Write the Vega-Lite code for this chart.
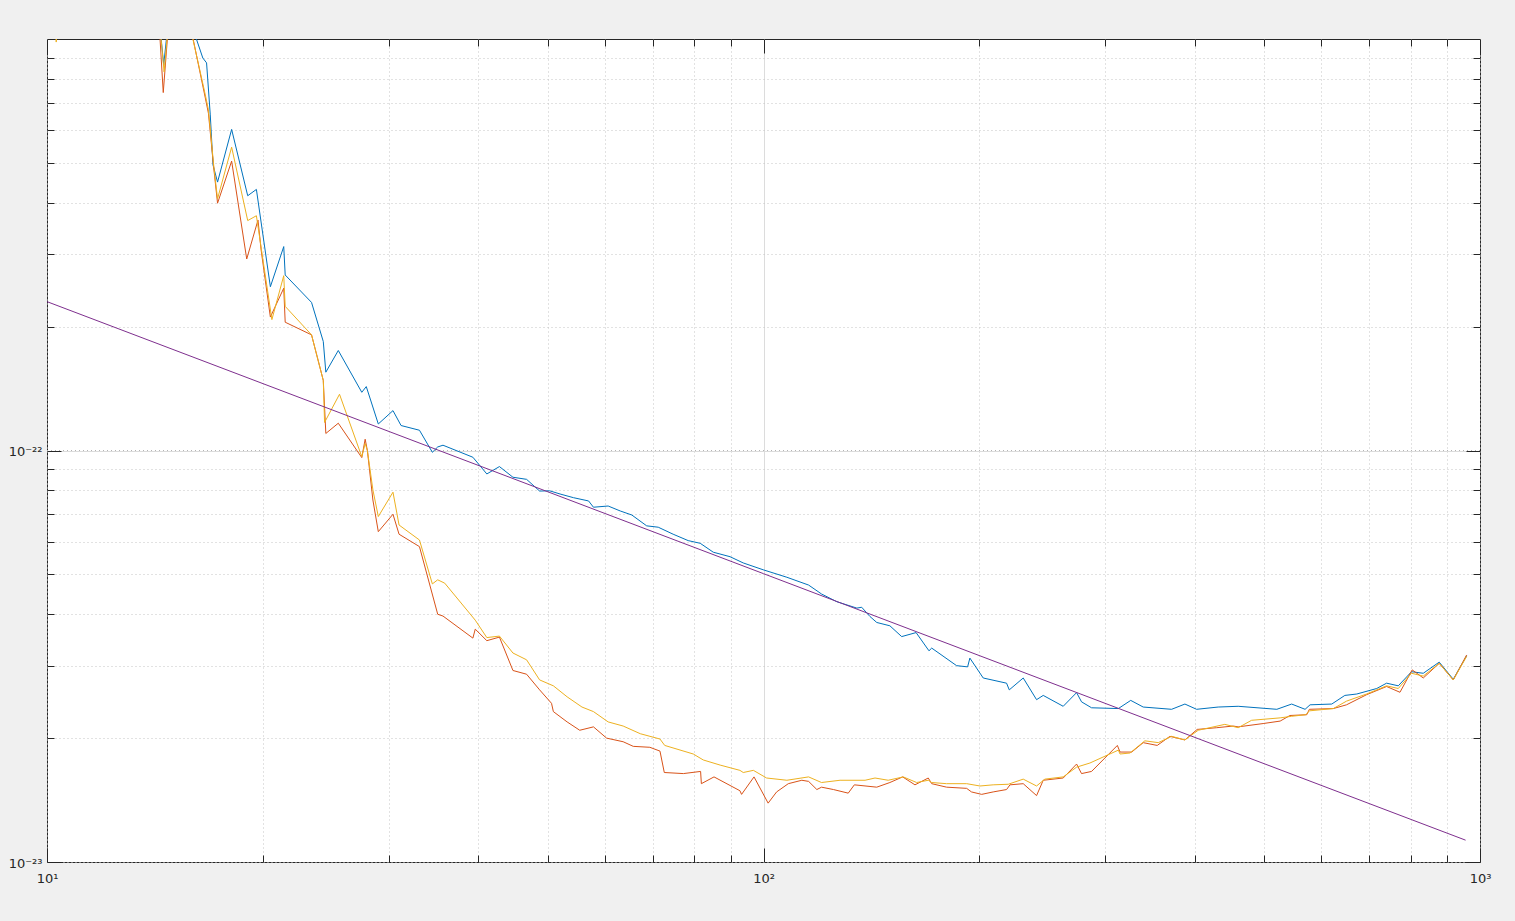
{
  "$schema": "https://vega.github.io/schema/vega-lite/v6.json",
  "width": 1433,
  "height": 823,
  "autosize": {"type": "none"},
  "padding": {"left": 47, "top": 39, "right": 35, "bottom": 59},
  "background": "#f0f0f0",
  "config": {
    "view": {"fill": "#ffffff", "stroke": "#262626", "strokeWidth": 1},
    "axis": {"domain": false, "labelFont": "DejaVu Sans", "labelFontSize": 13, "labelColor": "#262626", "tickColor": "#262626", "tickWidth": 1, "grid": false, "labels": false, "ticks": false, "labelOverlap": false, "labelFlush": false, "labelBound": false}
  },
  "datasets": {
    "blue": [
      {"f": 10, "v": 2.0e-21}, {"f": 10.3, "v": 1.6e-21}, {"f": 12.2, "v": 1.8e-21}, {"f": 14.29, "v": 1.2e-21}, {"f": 14.55, "v": 8.65e-22}, {"f": 14.84, "v": 1.2e-21}, {"f": 15.5, "v": 1.5e-21}, {"f": 16.1, "v": 1.02e-21},
      {"f": 16.5, "v": 8.99e-22}, {"f": 16.7, "v": 8.75e-22}, {"f": 16.9, "v": 6.54e-22}, {"f": 17.05, "v": 4.94e-22}, {"f": 17.3, "v": 4.49e-22}, {"f": 18.1, "v": 6.03e-22}, {"f": 19.06, "v": 4.16e-22}, {"f": 19.6, "v": 4.31e-22}, {"f": 20.5, "v": 2.50e-22}, {"f": 21.4, "v": 3.13e-22}, {"f": 21.5, "v": 2.67e-22}, {"f": 23.4, "v": 2.29e-22}, {"f": 24.3, "v": 1.84e-22}, {"f": 24.5, "v": 1.55e-22}, {"f": 25.5, "v": 1.75e-22}, {"f": 27.5, "v": 1.385e-22}, {"f": 27.9, "v": 1.43e-22}, {"f": 29.0, "v": 1.16e-22}, {"f": 30.4, "v": 1.25e-22}, {"f": 31.2, "v": 1.15e-22}, {"f": 33.1, "v": 1.12e-22}, {"f": 34.5, "v": 9.90e-23}, {"f": 35.1, "v": 1.02e-22}, {"f": 35.7, "v": 1.03e-22}, {"f": 39.3, "v": 9.63e-23}, {"f": 41.1, "v": 8.77e-23}, {"f": 42.8, "v": 9.14e-23}, {"f": 44.7, "v": 8.61e-23}, {"f": 46.7, "v": 8.51e-23}, {"f": 48.7, "v": 7.97e-23}, {"f": 50.3, "v": 7.98e-23}, {"f": 52.0, "v": 7.84e-23}, {"f": 54.3, "v": 7.68e-23}, {"f": 57.0, "v": 7.54e-23}, {"f": 57.9, "v": 7.28e-23}, {"f": 60.7, "v": 7.33e-23}, {"f": 63.1, "v": 7.13e-23}, {"f": 65.5, "v": 6.97e-23}, {"f": 68.7, "v": 6.56e-23}, {"f": 71.3, "v": 6.51e-23}, {"f": 74.8, "v": 6.26e-23}, {"f": 78.5, "v": 6.04e-23}, {"f": 81.6, "v": 5.95e-23}, {"f": 85.1, "v": 5.66e-23}, {"f": 89.8, "v": 5.52e-23}, {"f": 93.7, "v": 5.33e-23}, {"f": 99.9, "v": 5.13e-23}, {"f": 107.8, "v": 4.92e-23}, {"f": 115.6, "v": 4.71e-23}, {"f": 120.5, "v": 4.48e-23}, {"f": 126.6, "v": 4.29e-23}, {"f": 135.0, "v": 4.14e-23}, {"f": 137.1, "v": 4.16e-23}, {"f": 140.8, "v": 3.95e-23}, {"f": 143.9, "v": 3.82e-23}, {"f": 150.1, "v": 3.75e-23}, {"f": 155.9, "v": 3.53e-23}, {"f": 163.3, "v": 3.61e-23}, {"f": 170.2, "v": 3.26e-23}, {"f": 171.7, "v": 3.31e-23}, {"f": 186.0, "v": 3.00e-23}, {"f": 192.7, "v": 2.98e-23}, {"f": 194.1, "v": 3.13e-23}, {"f": 202.6, "v": 2.80e-23}, {"f": 218.4, "v": 2.72e-23}, {"f": 220.3, "v": 2.62e-23}, {"f": 230.4, "v": 2.80e-23}, {"f": 240.5, "v": 2.48e-23}, {"f": 245.7, "v": 2.54e-23}, {"f": 262.0, "v": 2.39e-23}, {"f": 273.5, "v": 2.58e-23}, {"f": 277.9, "v": 2.45e-23}, {"f": 287.0, "v": 2.37e-23}, {"f": 312.8, "v": 2.36e-23}, {"f": 325.5, "v": 2.47e-23}, {"f": 338.8, "v": 2.38e-23}, {"f": 371.2, "v": 2.35e-23}, {"f": 387.4, "v": 2.42e-23}, {"f": 402.2, "v": 2.35e-23}, {"f": 431.1, "v": 2.38e-23}, {"f": 459.7, "v": 2.39e-23}, {"f": 520.5, "v": 2.35e-23}, {"f": 545.9, "v": 2.42e-23}, {"f": 570.0, "v": 2.35e-23}, {"f": 579.2, "v": 2.41e-23}, {"f": 621.0, "v": 2.42e-23}, {"f": 647.7, "v": 2.54e-23}, {"f": 673.0, "v": 2.56e-23}, {"f": 717.5, "v": 2.64e-23}, {"f": 740.7, "v": 2.72e-23}, {"f": 769.0, "v": 2.68e-23}, {"f": 802.5, "v": 2.90e-23}, {"f": 833.3, "v": 2.875e-23}, {"f": 877.2, "v": 3.06e-23}, {"f": 917.7, "v": 2.78e-23}, {"f": 958.0, "v": 3.17e-23}
    ],
    "red": [
      {"f": 10, "v": 2.0e-21}, {"f": 10.3, "v": 1.6e-21}, {"f": 12.2, "v": 1.8e-21}, {"f": 14.29, "v": 1.2e-21}, {"f": 14.53, "v": 7.41e-22}, {"f": 14.84, "v": 1.2e-21}, {"f": 15.5, "v": 1.5e-21}, {"f": 15.9, "v": 1.05e-21},
      {"f": 16.6, "v": 7.31e-22}, {"f": 16.8, "v": 6.60e-22}, {"f": 17.1, "v": 4.81e-22}, {"f": 17.3, "v": 3.99e-22}, {"f": 18.1, "v": 5.05e-22}, {"f": 19.0, "v": 2.92e-22}, {"f": 19.7, "v": 3.63e-22}, {"f": 19.9, "v": 3.07e-22}, {"f": 20.5, "v": 2.11e-22}, {"f": 21.4, "v": 2.48e-22}, {"f": 21.5, "v": 2.05e-22}, {"f": 23.4, "v": 1.91e-22}, {"f": 24.3, "v": 1.48e-22}, {"f": 24.5, "v": 1.10e-22}, {"f": 25.5, "v": 1.165e-22}, {"f": 27.5, "v": 9.61e-23}, {"f": 27.8, "v": 1.065e-22}, {"f": 28.0, "v": 1.00e-22}, {"f": 28.5, "v": 7.58e-23}, {"f": 29.0, "v": 6.35e-23}, {"f": 30.4, "v": 7.00e-23}, {"f": 31.0, "v": 6.26e-23}, {"f": 33.1, "v": 5.84e-23}, {"f": 35.1, "v": 4.00e-23}, {"f": 35.7, "v": 3.96e-23}, {"f": 39.3, "v": 3.50e-23}, {"f": 39.6, "v": 3.68e-23}, {"f": 41.1, "v": 3.45e-23}, {"f": 42.8, "v": 3.52e-23}, {"f": 44.7, "v": 2.92e-23}, {"f": 46.7, "v": 2.86e-23}, {"f": 48.7, "v": 2.62e-23}, {"f": 50.6, "v": 2.43e-23}, {"f": 50.9, "v": 2.32e-23}, {"f": 53.2, "v": 2.19e-23}, {"f": 55.4, "v": 2.09e-23}, {"f": 57.9, "v": 2.13e-23}, {"f": 60.4, "v": 2.00e-23}, {"f": 63.7, "v": 1.96e-23}, {"f": 65.8, "v": 1.91e-23}, {"f": 69.4, "v": 1.90e-23}, {"f": 71.7, "v": 1.86e-23}, {"f": 72.7, "v": 1.65e-23}, {"f": 77.3, "v": 1.64e-23}, {"f": 81.7, "v": 1.66e-23}, {"f": 81.9, "v": 1.55e-23}, {"f": 85.3, "v": 1.61e-23}, {"f": 92.7, "v": 1.49e-23}, {"f": 93.2, "v": 1.46e-23}, {"f": 97.0, "v": 1.61e-23}, {"f": 101.5, "v": 1.39e-23}, {"f": 104.3, "v": 1.48e-23}, {"f": 108.3, "v": 1.55e-23}, {"f": 113.1, "v": 1.58e-23}, {"f": 115.6, "v": 1.57e-23}, {"f": 118.7, "v": 1.50e-23}, {"f": 120.5, "v": 1.52e-23}, {"f": 125.2, "v": 1.50e-23}, {"f": 131.3, "v": 1.47e-23}, {"f": 133.9, "v": 1.54e-23}, {"f": 143.9, "v": 1.52e-23}, {"f": 150.1, "v": 1.56e-23}, {"f": 156.4, "v": 1.61e-23}, {"f": 162.7, "v": 1.54e-23}, {"f": 169.8, "v": 1.60e-23}, {"f": 171.7, "v": 1.55e-23}, {"f": 180.1, "v": 1.52e-23}, {"f": 192.1, "v": 1.51e-23}, {"f": 195.1, "v": 1.48e-23}, {"f": 201.6, "v": 1.46e-23}, {"f": 209.2, "v": 1.48e-23}, {"f": 218.4, "v": 1.50e-23}, {"f": 220.8, "v": 1.54e-23}, {"f": 230.4, "v": 1.55e-23}, {"f": 240.5, "v": 1.45e-23}, {"f": 245.7, "v": 1.58e-23}, {"f": 262.0, "v": 1.60e-23}, {"f": 273.5, "v": 1.73e-23}, {"f": 277.9, "v": 1.64e-23}, {"f": 287.0, "v": 1.66e-23}, {"f": 311.8, "v": 1.92e-23}, {"f": 314.5, "v": 1.85e-23}, {"f": 326.5, "v": 1.85e-23}, {"f": 338.8, "v": 1.95e-23}, {"f": 354.4, "v": 1.92e-23}, {"f": 369.2, "v": 2.02e-23}, {"f": 387.4, "v": 1.98e-23}, {"f": 403.0, "v": 2.10e-23}, {"f": 429.0, "v": 2.12e-23}, {"f": 452.4, "v": 2.14e-23}, {"f": 459.7, "v": 2.13e-23}, {"f": 498.1, "v": 2.17e-23}, {"f": 526.1, "v": 2.20e-23}, {"f": 543.0, "v": 2.27e-23}, {"f": 573.1, "v": 2.28e-23}, {"f": 577.9, "v": 2.35e-23}, {"f": 624.2, "v": 2.36e-23}, {"f": 651.2, "v": 2.41e-23}, {"f": 694.5, "v": 2.55e-23}, {"f": 740.7, "v": 2.67e-23}, {"f": 773.2, "v": 2.585e-23}, {"f": 804.2, "v": 2.93e-23}, {"f": 833.3, "v": 2.80e-23}, {"f": 877.2, "v": 3.04e-23}, {"f": 917.7, "v": 2.77e-23}, {"f": 958.0, "v": 3.185e-23}
    ],
    "yellow": [
      {"f": 10, "v": 2.0e-21}, {"f": 10.3, "v": 9.83e-22}, {"f": 10.6, "v": 1.4e-21}, {"f": 12.2, "v": 1.8e-21}, {"f": 14.29, "v": 1.2e-21}, {"f": 14.57, "v": 8.32e-22}, {"f": 14.84, "v": 1.2e-21}, {"f": 15.5, "v": 1.5e-21}, {"f": 15.9, "v": 1.04e-21},
      {"f": 16.6, "v": 7.43e-22}, {"f": 16.8, "v": 6.73e-22}, {"f": 17.1, "v": 4.86e-22}, {"f": 17.3, "v": 4.09e-22}, {"f": 18.1, "v": 5.46e-22}, {"f": 19.06, "v": 3.62e-22}, {"f": 19.6, "v": 3.72e-22}, {"f": 20.6, "v": 2.08e-22}, {"f": 21.4, "v": 2.66e-22}, {"f": 21.5, "v": 2.24e-22}, {"f": 23.4, "v": 1.91e-22}, {"f": 24.3, "v": 1.48e-22}, {"f": 24.4, "v": 1.17e-22}, {"f": 25.6, "v": 1.37e-22}, {"f": 27.5, "v": 9.66e-23}, {"f": 27.8, "v": 1.04e-22}, {"f": 28.0, "v": 1.00e-22}, {"f": 28.5, "v": 8.02e-23}, {"f": 29.0, "v": 6.91e-23}, {"f": 30.4, "v": 7.92e-23}, {"f": 31.0, "v": 6.59e-23}, {"f": 33.1, "v": 6.06e-23}, {"f": 34.5, "v": 4.74e-23}, {"f": 35.1, "v": 4.85e-23}, {"f": 35.9, "v": 4.76e-23}, {"f": 39.6, "v": 3.87e-23}, {"f": 41.1, "v": 3.51e-23}, {"f": 42.8, "v": 3.54e-23}, {"f": 44.7, "v": 3.22e-23}, {"f": 46.7, "v": 3.10e-23}, {"f": 48.7, "v": 2.77e-23}, {"f": 50.9, "v": 2.68e-23}, {"f": 53.2, "v": 2.52e-23}, {"f": 55.8, "v": 2.38e-23}, {"f": 57.9, "v": 2.32e-23}, {"f": 60.7, "v": 2.19e-23}, {"f": 63.7, "v": 2.14e-23}, {"f": 67.3, "v": 2.05e-23}, {"f": 71.7, "v": 1.99e-23}, {"f": 72.8, "v": 1.92e-23}, {"f": 79.8, "v": 1.83e-23}, {"f": 82.4, "v": 1.77e-23}, {"f": 87.0, "v": 1.72e-23}, {"f": 92.7, "v": 1.67e-23}, {"f": 93.7, "v": 1.65e-23}, {"f": 96.8, "v": 1.67e-23}, {"f": 101.0, "v": 1.60e-23}, {"f": 107.8, "v": 1.58e-23}, {"f": 115.6, "v": 1.61e-23}, {"f": 120.5, "v": 1.56e-23}, {"f": 127.9, "v": 1.58e-23}, {"f": 138.6, "v": 1.58e-23}, {"f": 143.1, "v": 1.60e-23}, {"f": 149.3, "v": 1.58e-23}, {"f": 156.7, "v": 1.61e-23}, {"f": 163.6, "v": 1.56e-23}, {"f": 169.8, "v": 1.58e-23}, {"f": 171.7, "v": 1.56e-23}, {"f": 180.1, "v": 1.55e-23}, {"f": 192.1, "v": 1.55e-23}, {"f": 200.5, "v": 1.53e-23}, {"f": 209.2, "v": 1.54e-23}, {"f": 219.6, "v": 1.545e-23}, {"f": 230.4, "v": 1.59e-23}, {"f": 240.5, "v": 1.53e-23}, {"f": 247.0, "v": 1.59e-23}, {"f": 262.0, "v": 1.61e-23}, {"f": 273.5, "v": 1.70e-23}, {"f": 285.5, "v": 1.74e-23}, {"f": 312.8, "v": 1.87e-23}, {"f": 314.5, "v": 1.83e-23}, {"f": 324.7, "v": 1.84e-23}, {"f": 340.6, "v": 1.97e-23}, {"f": 355.6, "v": 1.95e-23}, {"f": 371.2, "v": 2.02e-23}, {"f": 387.4, "v": 1.98e-23}, {"f": 404.3, "v": 2.09e-23}, {"f": 440.4, "v": 2.16e-23}, {"f": 459.7, "v": 2.12e-23}, {"f": 480.0, "v": 2.21e-23}, {"f": 526.1, "v": 2.24e-23}, {"f": 545.9, "v": 2.26e-23}, {"f": 571.3, "v": 2.28e-23}, {"f": 577.9, "v": 2.33e-23}, {"f": 624.2, "v": 2.36e-23}, {"f": 651.2, "v": 2.46e-23}, {"f": 694.5, "v": 2.56e-23}, {"f": 740.7, "v": 2.68e-23}, {"f": 769.0, "v": 2.64e-23}, {"f": 802.5, "v": 2.875e-23}, {"f": 833.3, "v": 2.83e-23}, {"f": 877.2, "v": 3.04e-23}, {"f": 917.7, "v": 2.77e-23}, {"f": 958.0, "v": 3.16e-23}
    ],
    "purple": [
      {"f": 10, "v": 2.30e-22}, {"f": 100, "v": 5.02e-23}, {"f": 954.7, "v": 1.13e-23}
    ],
    "ref": [{"v": 1e-22}]
  },
  "resolve": {"axis": {"x": "independent", "y": "independent"}},
  "layer": [
    {
      "data": {"name": "ref"},
      "mark": {"type": "rule", "color": "#b4b4b4", "strokeDash": [1, 3], "strokeWidth": 1},
      "encoding": {
        "y": {"field": "v", "type": "quantitative", "scale": {"type": "log", "domain": [1e-23, 1e-21], "nice": false}, "axis": null}
      }
    },
    {
      "data": {"name": "blue"},
      "mark": {"type": "line", "color": "#0072BD", "strokeWidth": 1, "clip": true},
      "encoding": {
        "x": {"field": "f", "type": "quantitative", "scale": {"type": "log", "domain": [10, 1000], "nice": false},
          "axis": {"orient": "bottom", "title": null, "values": [10,20,30,40,50,60,70,80,90,100,200,300,400,500,600,700,800,900,1000],
            "labels": true, "labelPadding": 10, "labelExpr": "datum.value == 10 ? '10¹' : datum.value == 100 ? '10²' : datum.value == 1000 ? '10³' : ''",
            "grid": true,
            "gridColor": {"condition": {"test": "datum.value == 100", "value": "#dcdcdc"}, "value": "#c5c5c5"},
            "gridDash": {"condition": {"test": "datum.value == 100", "value": []}, "value": [1, 3]}}},
        "y": {"field": "v", "type": "quantitative", "scale": {"type": "log", "domain": [1e-23, 1e-21], "nice": false},
          "axis": {"orient": "left", "title": null, "values": [1e-23,2e-23,3e-23,4e-23,5e-23,6e-23,7e-23,8e-23,9e-23,1e-22,2e-22,3e-22,4e-22,5e-22,6e-22,7e-22,8e-22,9e-22],
            "labels": true, "labelPadding": 5, "labelOffset": 1, "labelExpr": "datum.value == 1e-23 ? '10⁻²³' : datum.value == 1e-22 ? '10⁻²²' : ''",
            "grid": true,
            "gridColor": {"condition": {"test": "datum.value == 1e-22", "value": "#dcdcdc"}, "value": "#c5c5c5"},
            "gridDash": {"condition": {"test": "datum.value == 1e-22", "value": []}, "value": [1, 3]}}}
      }
    },
    {
      "data": {"name": "red"},
      "mark": {"type": "line", "color": "#D95319", "strokeWidth": 1, "clip": true},
      "encoding": {
        "x": {"field": "f", "type": "quantitative", "scale": {"type": "log", "domain": [10, 1000], "nice": false},
          "axis": {"orient": "bottom", "title": null, "values": [20,30,40,50,60,70,80,90,200,300,400,500,600,700,800,900], "ticks": true, "tickSize": -7}},
        "y": {"field": "v", "type": "quantitative", "scale": {"type": "log", "domain": [1e-23, 1e-21], "nice": false},
          "axis": {"orient": "left", "title": null, "values": [2e-23,3e-23,4e-23,5e-23,6e-23,7e-23,8e-23,9e-23,2e-22,3e-22,4e-22,5e-22,6e-22,7e-22,8e-22,9e-22], "ticks": true, "tickSize": -7}}
      }
    },
    {
      "data": {"name": "yellow"},
      "mark": {"type": "line", "color": "#EDB120", "strokeWidth": 1, "clip": true},
      "encoding": {
        "x": {"field": "f", "type": "quantitative", "scale": {"type": "log", "domain": [10, 1000], "nice": false},
          "axis": {"orient": "top", "title": null, "values": [20,30,40,50,60,70,80,90,200,300,400,500,600,700,800,900], "ticks": true, "tickSize": -7}},
        "y": {"field": "v", "type": "quantitative", "scale": {"type": "log", "domain": [1e-23, 1e-21], "nice": false},
          "axis": {"orient": "right", "title": null, "values": [2e-23,3e-23,4e-23,5e-23,6e-23,7e-23,8e-23,9e-23,2e-22,3e-22,4e-22,5e-22,6e-22,7e-22,8e-22,9e-22], "ticks": true, "tickSize": -7}}
      }
    },
    {
      "data": {"name": "purple"},
      "mark": {"type": "line", "color": "#7E2F8E", "strokeWidth": 1, "clip": true},
      "encoding": {
        "x": {"field": "f", "type": "quantitative", "scale": {"type": "log", "domain": [10, 1000], "nice": false},
          "axis": {"orient": "bottom", "title": null, "values": [10, 100, 1000], "ticks": true, "tickSize": -14}},
        "y": {"field": "v", "type": "quantitative", "scale": {"type": "log", "domain": [1e-23, 1e-21], "nice": false},
          "axis": {"orient": "left", "title": null, "values": [1e-23, 1e-22], "ticks": true, "tickSize": -14}}
      }
    },
    {
      "data": {"name": "purple"},
      "mark": {"type": "line", "color": "#7E2F8E", "strokeWidth": 1, "strokeOpacity": 0, "clip": true},
      "encoding": {
        "x": {"field": "f", "type": "quantitative", "scale": {"type": "log", "domain": [10, 1000], "nice": false},
          "axis": {"orient": "top", "title": null, "values": [10, 100, 1000], "ticks": true, "tickSize": -14}},
        "y": {"field": "v", "type": "quantitative", "scale": {"type": "log", "domain": [1e-23, 1e-21], "nice": false},
          "axis": {"orient": "right", "title": null, "values": [1e-23, 1e-22], "ticks": true, "tickSize": -14}}
      }
    }
  ]
}
